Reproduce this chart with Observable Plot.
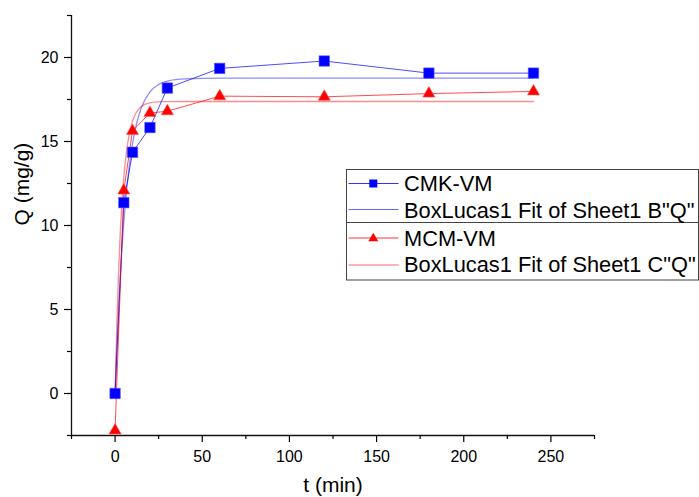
<!DOCTYPE html>
<html><head><meta charset="utf-8">
<script src="https://cdn.jsdelivr.net/npm/d3@7"></script>
<script src="https://cdn.jsdelivr.net/npm/@observablehq/plot@0.6"></script>
<style>html,body{margin:0;padding:0;background:#fff;overflow:hidden} svg{display:block}</style>
</head><body><div id="chart"></div>
<script>
// Measured data (t in min, Q in mg/g)
const time = [0, 5, 10, 20, 30, 60, 120, 180, 240];
const cmkVM = [0, 11.36, 14.36, 15.83, 18.18, 19.35, 19.79, 19.07, 19.07];
const mcmVM = [-2.2, 12.08, 15.63, 16.7, 16.8, 17.7, 17.66, 17.85, 17.98];
// BoxLucas1 fit curves
const fitTime = [0, 1, 2, 3, 4, 5, 6, 8, 10, 12, 15, 20, 25, 30, 40, 60, 120, 240];
const fitCMK = [0, 2.73, 5.06, 7.05, 8.75, 10.21, 11.45, 13.42, 14.87, 15.92, 16.99, 17.96, 18.40, 18.60, 18.73, 18.77, 18.77, 18.77];
const fitMCM = [0, 4.11, 7.25, 9.65, 11.48, 12.88, 13.94, 15.38, 16.21, 16.70, 17.08, 17.30, 17.36, 17.37, 17.38, 17.38, 17.38, 17.38];
// Ticks
const xMajorTicks = [0, 50, 100, 150, 200, 250];
const xMinorTicks = [-25, 25, 75, 125, 175, 225, 275];
const yMajorTicks = [0, 5, 10, 15, 20];
const yMinorTicks = [-2.5, 2.5, 7.5, 12.5, 17.5, 22.5];
const legendLabels = ["CMK-VM", "BoxLucas1 Fit of Sheet1 B\"Q\"", "MCM-VM", "BoxLucas1 Fit of Sheet1 C\"Q\""];
const xTitle = "t (min)";
const yTitle = "Q (mg/g)";

const FONT = "'Liberation Sans', Arial, Helvetica, sans-serif";
const BLUE = "#0000ff", RED = "#ff0000";

const svg = Plot.plot({
  width: 699, height: 497,
  marginLeft: 71, marginRight: 105, marginTop: 15, marginBottom: 62,
  style: {fontFamily: FONT, fontSize: "16px", color: "#000", background: "#fff", overflow: "visible"},
  x: {domain: [-25, 275], label: null},
  y: {domain: [-2.5, 22.5], label: null},
  marks: [
    Plot.line({length: fitTime.length}, {x: fitTime, y: fitCMK, curve: "monotone-x", stroke: BLUE, strokeWidth: 1.3, strokeOpacity: 0.45}),
    Plot.line({length: fitTime.length}, {x: fitTime, y: fitMCM, curve: "monotone-x", stroke: RED, strokeWidth: 1.3, strokeOpacity: 0.45}),
    Plot.line(time, {x: time, y: cmkVM, stroke: BLUE, strokeWidth: 1, strokeOpacity: 0.7}),
    Plot.line(time, {x: time, y: mcmVM, stroke: RED, strokeWidth: 1, strokeOpacity: 0.7}),
    Plot.dot(time, {x: time, y: cmkVM, symbol: "square", r: 5.9, fill: BLUE, stroke: "#5555ff", strokeWidth: 0.6}),
    Plot.dot(time, {x: time, y: mcmVM, symbol: "triangle", r: 4.5, fill: RED, stroke: "#ff5555", strokeWidth: 0.6}),
    Plot.ruleX([-25], {stroke: "#111", strokeWidth: 1.3}),
    Plot.ruleY([-2.5], {stroke: "#111", strokeWidth: 1.3}),
    Plot.axisX(xMajorTicks, {tickSize: 7, tickPadding: 8, fontSize: 16, strokeWidth: 1.2, label: null}),
    Plot.axisX(xMinorTicks, {tickSize: 4, text: null, strokeWidth: 1.2, label: null}),
    Plot.axisY(yMajorTicks, {tickSize: 7, tickPadding: 6, fontSize: 16, strokeWidth: 1.2, label: null}),
    Plot.axisY(yMinorTicks, {tickSize: 4, text: null, strokeWidth: 1.2, label: null}),
    Plot.text([xTitle], {text: d => d, frameAnchor: "bottom", lineAnchor: "bottom", dy: 56, fontSize: 21}),
    Plot.text([yTitle], {text: d => d, frameAnchor: "left", lineAnchor: "bottom", rotate: -90, dx: -43, fontSize: 21})
  ]
});

// Legend (Origin-style, inside the plot)
const g = d3.select(svg).append("g").attr("font-family", FONT).attr("font-size", 21.8).attr("text-anchor", "start");
g.append("rect").attr("x", 346.5).attr("y", 169.5).attr("width", 352).attr("height", 53).attr("fill", "#fff").attr("stroke", "#444").attr("stroke-width", 1);
g.append("rect").attr("x", 346.5).attr("y", 222.5).attr("width", 352).attr("height", 57.5).attr("fill", "#fff").attr("stroke", "#444").attr("stroke-width", 1);
const rows = [
  {y: 183.5, base: 191, color: BLUE, marker: "square", op: 0.8},
  {y: 209.5, base: 217.5, color: BLUE, marker: null, op: 0.6},
  {y: 238, base: 246, color: RED, marker: "triangle", op: 0.8},
  {y: 265, base: 272, color: RED, marker: null, op: 0.6}
];
rows.forEach((r, i) => {
  g.append("line").attr("x1", 348.5).attr("x2", 398.5).attr("y1", r.y).attr("y2", r.y).attr("stroke", r.color).attr("stroke-opacity", r.op).attr("stroke-width", 1);
  if (r.marker === "square") {
    g.append("rect").attr("x", 369.3).attr("y", r.y - 4).attr("width", 8).attr("height", 8).attr("fill", r.color);
  } else if (r.marker === "triangle") {
    g.append("path").attr("d", d3.symbol(d3.symbolTriangle, 42)()).attr("transform", `translate(373.3,${r.y + 0.5})`).attr("fill", r.color);
  }
  g.append("text").attr("x", 404).attr("y", r.base).attr("fill", "#000").attr("text-anchor", "start").text(legendLabels[i]);
});

document.getElementById("chart").appendChild(svg);
</script>
</body></html>
